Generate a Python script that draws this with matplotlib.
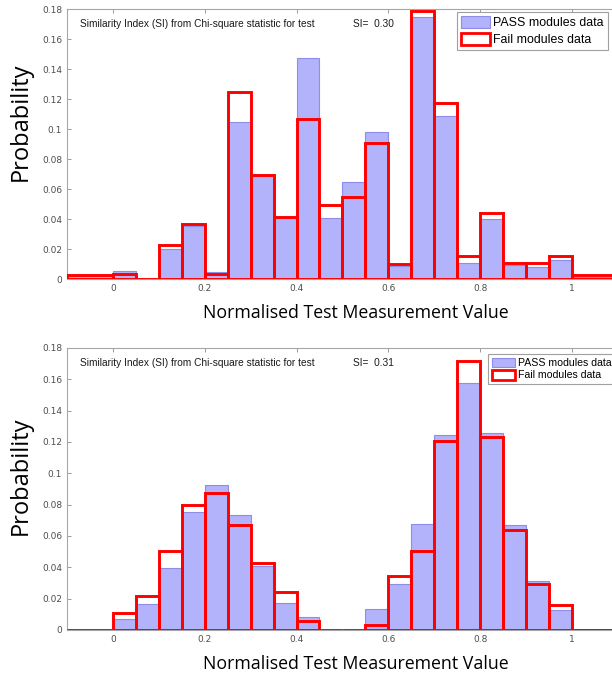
import numpy as np
import matplotlib.pyplot as plt
from matplotlib.patches import Patch
from matplotlib.ticker import FormatStrFormatter

# bin edges: outer bins run out to the axis limits
bin_edges = [-0.1, 0.0, 0.05, 0.1, 0.15, 0.2, 0.25, 0.3, 0.35, 0.4, 0.45, 0.5,
             0.55, 0.6, 0.65, 0.7, 0.75, 0.8, 0.85, 0.9, 0.95, 1.0, 1.1]

# top panel
pass_top = [0.0018, 0.0053, 0.0, 0.020, 0.0357, 0.0047, 0.105, 0.0685, 0.041, 0.1475, 0.041,
            0.065, 0.098, 0.009, 0.175, 0.1085, 0.0107, 0.040, 0.0095, 0.008, 0.0127, 0.0015]
fail_top = [0.0027, 0.0033, 0.0, 0.023, 0.0364, 0.0033, 0.1246, 0.0695, 0.0416, 0.1067, 0.0493,
            0.0545, 0.091, 0.0102, 0.1784, 0.1172, 0.0152, 0.0443, 0.0107, 0.0107, 0.0153, 0.0027]
si_top = 0.30

# bottom panel
pass_bot = [0.0, 0.0067, 0.0168, 0.0396, 0.0754, 0.0926, 0.0737, 0.041, 0.0173, 0.008, 0.0,
            0.0, 0.0137, 0.0295, 0.0674, 0.1247, 0.1575, 0.126, 0.067, 0.031, 0.0126, 0.0]
fail_bot = [0.0, 0.0109, 0.0217, 0.0505, 0.0796, 0.0874, 0.0667, 0.0427, 0.0242, 0.0057, 0.0,
            0.0, 0.0032, 0.0345, 0.0505, 0.1204, 0.1718, 0.1232, 0.0638, 0.0295, 0.0162, 0.0]
si_bot = 0.31

edges = np.array(bin_edges)
left = edges[:-1]
width = np.diff(edges)

fig = plt.figure(figsize=(6.12, 6.79), dpi=100)
ax_top = fig.add_axes([0.1095, 0.589, 0.90, 0.3976])
ax_bot = fig.add_axes([0.1095, 0.0722, 0.90, 0.4153])

panels = [
    (ax_top, pass_top, fail_top, si_top,
     dict(fontsize=8.9, bbox=(0.7075, 0.99), hl=2.35, hh=1.1, sp=0.3), (0.581, -0.093)),
    (ax_bot, pass_bot, fail_bot, si_bot,
     dict(fontsize=7.6, bbox=(0.764, 0.979), hl=2.25, hh=1.0, sp=0.2), (0.546, -0.089)),
]

for ax, p, f, si, leg, (ylab_y, xlab_y) in panels:
    ax.bar(left, p, width=width, align='edge', color='#b3b3fb', edgecolor='#8e8ee8',
           linewidth=0.8, zorder=2)
    ax.bar(left, f, width=width, align='edge', facecolor='none', edgecolor='#ff0000',
           linewidth=2.1, zorder=3)
    ax.set_xlim(-0.1, 1.1)
    ax.set_ylim(0, 0.18)
    ax.set_xticks([0, 0.2, 0.4, 0.6, 0.8, 1.0])
    ax.set_yticks(np.arange(0, 0.181, 0.02))
    ax.xaxis.set_major_formatter(FormatStrFormatter('%g'))
    ax.yaxis.set_major_formatter(FormatStrFormatter('%g'))
    ax.tick_params(direction='in', length=3, width=0.7, colors='#999999',
                   labelcolor='#4d4d4d', labelsize=6.5, top=True, right=False)
    for s in ax.spines.values():
        s.set_color('#a6a6a6')
        s.set_linewidth(0.8)
    ax.spines['right'].set_visible(False)

    ax.text(-0.072, 0.1702, 'Similarity Index (SI) from Chi-square statistic for test',
            fontsize=7.3, family='Liberation Sans', color='#1a1a1a', va='center')
    ax.text(0.522, 0.1702, 'SI=  %.2f' % si, fontsize=7.3, family='Liberation Sans',
            color='#1a1a1a', va='center')

    ax.set_ylabel('Probability', family='Open Sans', fontsize=17, color='black')
    ax.yaxis.set_label_coords(-0.062, ylab_y)
    ax.set_xlabel('Normalised Test Measurement Value', family='Open Sans', fontsize=12.8,
                  color='black')
    ax.xaxis.set_label_coords(0.525, xlab_y)

    handles = [Patch(facecolor='#b3b3fb', edgecolor='#8e8ee8', linewidth=0.8),
               Patch(facecolor='white', edgecolor='#ff0000', linewidth=2.0)]
    lg = ax.legend(handles, ['PASS modules data', 'Fail modules data'],
                   loc='upper left', bbox_to_anchor=leg['bbox'],
                   prop={'family': 'Liberation Sans', 'size': leg['fontsize']},
                   fancybox=False, framealpha=1, edgecolor='#a0a0a0',
                   handlelength=leg['hl'], handleheight=leg['hh'], handletextpad=0.25,
                   borderpad=0.35, labelspacing=leg['sp'], borderaxespad=0)
    lg.get_frame().set_linewidth(0.8)
    lg.set_zorder(5)

plt.savefig('out.png', dpi=100)
